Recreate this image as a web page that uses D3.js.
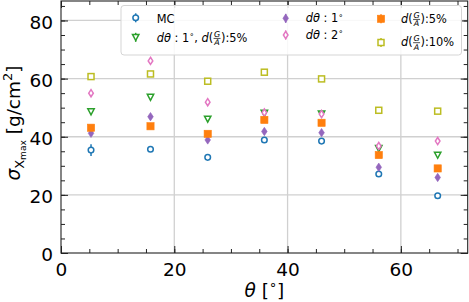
<!DOCTYPE html>
<html><head><meta charset="utf-8">
<script src="https://cdn.jsdelivr.net/npm/d3@7"></script>
<style>body{margin:0;background:#fff} svg{display:block} text{font-family:"DejaVu Sans",sans-serif;white-space:pre}</style>
</head><body><svg id="c" width="469" height="302"></svg>
<script>
// ---- data ----
const theta = [5.3, 15.8, 25.9, 35.9, 46.0, 56.1, 66.5];
const mcValues   = [35.4, 35.7, 32.9, 38.9, 38.5, 27.2, 19.7];
const mcErrors   = [2.0, 0.8, 0.8, 0.8, 0.8, 0.8, 0.8];
const d1g5Values = [48.6, 53.6, 46.1, 48.1, 47.9, 36.0, 33.7];
const d1Values   = [41.2, 46.9, 38.9, 41.8, 41.4, 29.5, 26.0];
const d2Values   = [55.0, 66.1, 51.9, 48.3, 47.8, 36.8, 38.5];
const g5Values   = [43.1, 43.6, 41.0, 45.8, 44.8, 33.7, 29.1];
const g10Values  = [60.7, 61.6, 59.1, 62.2, 59.9, 49.1, 48.8];
const otherErrors = [0.8, 0.8, 0.8, 0.8, 0.8, 0.8, 0.8];
const xTicks = [0, 20, 40, 60];
const yTicks = [0, 20, 40, 60, 80];

const series = [
  {name:"MC", values: mcValues, errors: mcErrors, color:"#1f77b4", shape:"circle", fill:false},
  {name:"d1g5", values: d1g5Values, errors: otherErrors, color:"#2ca02c", shape:"tridown", fill:false},
  {name:"d1", values: d1Values, errors: otherErrors, color:"#9467bd", shape:"thind", fill:true},
  {name:"d2", values: d2Values, errors: otherErrors, color:"#e377c2", shape:"thind", fill:false},
  {name:"g5", values: g5Values, errors: otherErrors, color:"#ff7f0e", shape:"square", fill:true},
  {name:"g10", values: g10Values, errors: otherErrors, color:"#bcbd22", shape:"square", fill:false}
];

const legendLabels = {
  MC: [{t:"MC"}],
  d1g5: [{t:"dθ",it:true},{t:" : 1"},{t:"∘",sup:true},{t:", "},{t:"d",it:true},{t:"("},{frac:["G","A"]},{t:"):5%"}],
  d1: [{t:"dθ",it:true},{t:" : 1"},{t:"∘",sup:true}],
  d2: [{t:"dθ",it:true},{t:" : 2"},{t:"∘",sup:true}],
  g5: [{t:"d",it:true},{t:"("},{frac:["G","A"]},{t:"):5%"}],
  g10: [{t:"d",it:true},{t:"("},{frac:["G","A"]},{t:"):10%"}]
};

// ---- layout ----
const L = 61, R = 467.7, T = 1, B = 253;
const x = d3.scaleLinear().domain([0, 71.8]).range([L, R]);
const y = d3.scaleLinear().domain([0, 86.7]).range([B, T]);
const svg = d3.select("#c");

// grid
svg.append("g").selectAll("line").data(xTicks.slice(1)).join("line")
  .attr("x1", d=>x(d)).attr("x2", d=>x(d)).attr("y1", T).attr("y2", B)
  .attr("stroke", "#d0d0d0").attr("stroke-width", 1.3);
svg.append("g").selectAll("line").data(yTicks.slice(1)).join("line")
  .attr("y1", d=>y(d)).attr("y2", d=>y(d)).attr("x1", L).attr("x2", R)
  .attr("stroke", "#d0d0d0").attr("stroke-width", 1.3);

// axes
const minorX = d3.range(0, 71, 5), minorY = d3.range(0, 86, 5);
function styleAxis(g){ g.select(".domain").remove(); g.selectAll("line").attr("stroke","#222").attr("stroke-width",1); }
svg.append("g").attr("transform",`translate(0,${B})`).call(d3.axisBottom(x).tickValues(minorX).tickSize(-4).tickFormat("")).call(styleAxis);
svg.append("g").attr("transform",`translate(0,${T})`).call(d3.axisTop(x).tickValues(minorX).tickSize(-4).tickFormat("")).call(styleAxis);
svg.append("g").attr("transform",`translate(${L},0)`).call(d3.axisLeft(y).tickValues(minorY).tickSize(-4).tickFormat("")).call(styleAxis);
svg.append("g").attr("transform",`translate(${R},0)`).call(d3.axisRight(y).tickValues(minorY).tickSize(-4).tickFormat("")).call(styleAxis);

const xb = svg.append("g").attr("transform",`translate(0,${B})`).call(d3.axisBottom(x).tickValues(xTicks).tickSize(-7).tickPadding(4)).call(styleAxis);
xb.selectAll("text").attr("fill","#000").style("font-size","18.5px").attr("y", 23).attr("dy", 0);
svg.append("g").attr("transform",`translate(0,${T})`).call(d3.axisTop(x).tickValues(xTicks).tickSize(-7).tickFormat("")).call(styleAxis);
const yl = svg.append("g").attr("transform",`translate(${L},0)`).call(d3.axisLeft(y).tickValues(yTicks).tickSize(-7).tickPadding(8)).call(styleAxis);
yl.selectAll("text").attr("fill","#000").style("font-size","18.5px").attr("dy", 0).attr("y", 7.6).attr("x", -8);
svg.append("g").attr("transform",`translate(${R},0)`).call(d3.axisRight(y).tickValues(yTicks).tickSize(-7).tickFormat("")).call(styleAxis);

// frame
svg.append("rect").attr("x",L).attr("y",T).attr("width",R-L).attr("height",B-T)
  .attr("fill","none").attr("stroke","#222").attr("stroke-width",1.1);

function drawMarker(g, cx, cy, s){
  const sw = 1.5;
  const fill = s.fill ? s.color : "#fff";
  if (s.shape==="circle") {
    g.append("circle").attr("cx",cx).attr("cy",cy).attr("r",2.8).attr("fill",fill).attr("stroke",s.color).attr("stroke-width",sw);
  } else if (s.shape==="square") {
    const h = s.fill ? 3.6 : 3.0;
    g.append("rect").attr("x",cx-h).attr("y",cy-h).attr("width",2*h).attr("height",2*h).attr("fill",fill).attr("stroke",s.color).attr("stroke-width",s.fill?0.6:sw);
  } else if (s.shape==="tridown") {
    const h = 3.2;
    g.append("path").attr("d",`M${cx-h},${cy-h*0.9}L${cx+h},${cy-h*0.9}L${cx},${cy+h*1.0}Z`).attr("fill",fill).attr("stroke",s.color).attr("stroke-width",sw).attr("stroke-linejoin","miter");
  } else if (s.shape==="thind") {
    const h = s.fill ? 4.2 : 3.6, w = s.fill ? 2.8 : 2.3;
    g.append("path").attr("d",`M${cx},${cy-h}L${cx+w},${cy}L${cx},${cy+h}L${cx-w},${cy}Z`).attr("fill",fill).attr("stroke",s.color).attr("stroke-width",s.fill?0.6:sw);
  }
}

const pts = svg.append("g");
series.forEach(s => {
  const g = pts.append("g");
  s.values.forEach((v,i) => {
    g.append("line").attr("x1",x(theta[i])).attr("x2",x(theta[i]))
      .attr("y1",y(v - s.errors[i])).attr("y2",y(v + s.errors[i]))
      .attr("stroke",s.color).attr("stroke-width",1.5);
    drawMarker(g, x(theta[i]), y(v), s);
  });
});

// rich text helper
function mathLabel(g, x0, yb, pieces, fs){
  let cx = x0;
  pieces.forEach(p => {
    if (p.frac) {
      const sfs = fs*0.7;
      const n = g.append("text").attr("y", yb - 5.0).style("font-size", sfs+"px").style("font-style","italic").attr("text-anchor","middle").text(p.frac[0]);
      const dd = g.append("text").attr("y", yb + 3.4).style("font-size", sfs+"px").style("font-style","italic").attr("text-anchor","middle").text(p.frac[1]);
      const w = Math.max(n.node().getComputedTextLength(), dd.node().getComputedTextLength()) + 1.6;
      n.attr("x", cx + w/2); dd.attr("x", cx + w/2);
      g.append("line").attr("x1",cx+0.4).attr("x2",cx+w-0.4).attr("y1",yb-3.6).attr("y2",yb-3.6).attr("stroke","#000").attr("stroke-width",0.7);
      cx += w;
    } else {
      const sz = p.sup ? fs*0.7 : (p.sub ? fs*(p.scale||0.7) : fs);
      const yy = p.sup ? yb - fs*0.42 : (p.sub ? yb + fs*(p.shift||0.2) : yb);
      const t = g.append("text").attr("x",cx).attr("y",yy).style("font-size",sz+"px").text(p.t);
      if (p.it) t.style("font-style","italic");
      cx += t.node().getComputedTextLength();
    }
  });
  return cx - x0;
}

// legend
const lg = svg.append("g");
lg.append("rect").attr("x",121).attr("y",5.5).attr("width",340.5).attr("height",49.5).attr("rx",3)
  .attr("fill","#fff").attr("fill-opacity",0.85).attr("stroke","#d5d5d5").attr("stroke-width",1);
const legendPos = {
  MC:   {mx:135.7, tx:156.7, yb:22.7, my:17.8},
  d1g5: {mx:135.7, tx:156.7, yb:42.0, my:37.3},
  d1:   {mx:285.7, tx:305.7, yb:22.3, my:18.3},
  d2:   {mx:285.7, tx:305.7, yb:39.2, my:35.0},
  g5:   {mx:381.0, tx:401.0, yb:23.0, my:18.8},
  g10:  {mx:381.0, tx:401.0, yb:46.3, my:42.5}
};
series.forEach(s => {
  const p = legendPos[s.name];
  lg.append("line").attr("x1",p.mx).attr("x2",p.mx).attr("y1",p.my-4.5).attr("y2",p.my+4.5).attr("stroke",s.color).attr("stroke-width",1.5);
  drawMarker(lg, p.mx, p.my, s);
  mathLabel(lg, p.tx, p.yb, legendLabels[s.name], 11.4);
});

// axis labels
const xlab = svg.append("g");
const xw = mathLabel(xlab, 0, 0, [{t:"θ",it:true},{t:" ["},{t:"∘",sup:true},{t:"]"}], 18.5);
xlab.attr("transform",`translate(${(L+R)/2 - xw/2},${297})`);

const ylabOuter = svg.append("g");
const ylab = ylabOuter.append("g");
const yw = mathLabel(ylab, 0, 0, [{t:"σ",it:true},{t:"X",sub:true,scale:0.7,shift:0.2},{t:"max",sub:true,scale:0.49,shift:0.33},{t:" [g/cm"},{t:"2",sup:true},{t:"]"}], 18.5);
ylabOuter.attr("transform",`translate(20,${(T+B)/2 - 4}) rotate(-90) translate(${-yw/2},0)`);
</script></body></html>
